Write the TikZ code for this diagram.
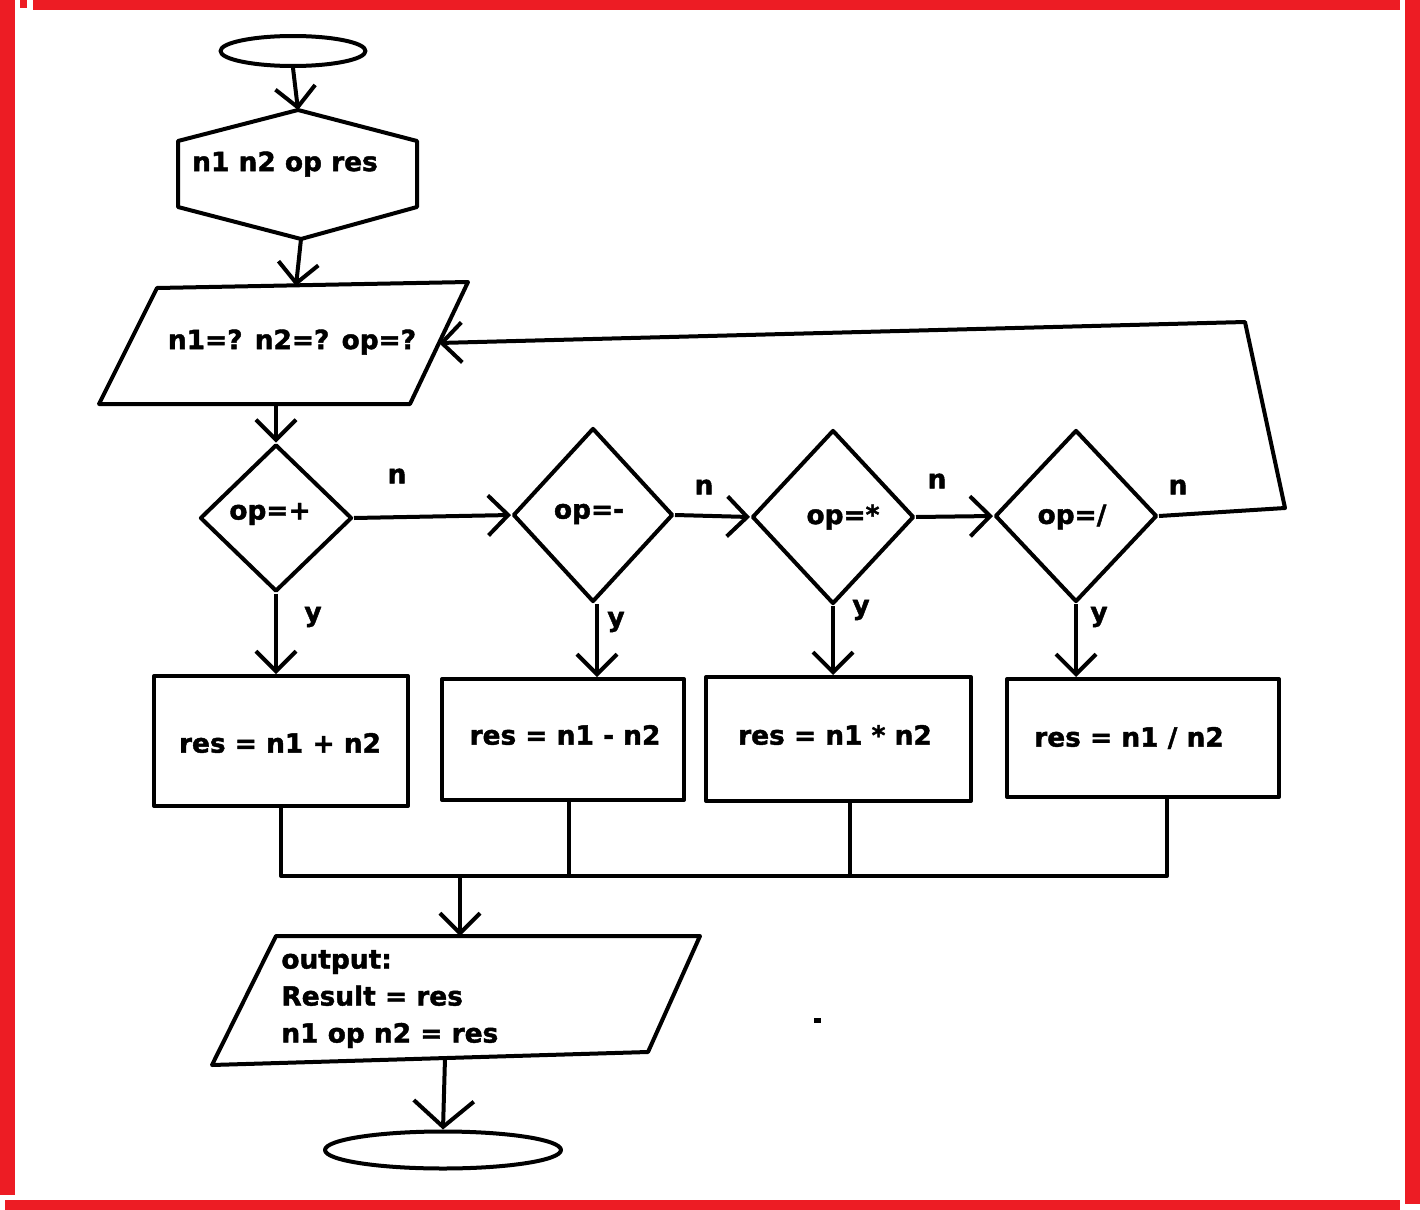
\documentclass[tikz,border=0pt]{standalone}
\usepackage{fontspec}
\setmainfont{DejaVu Sans}[BoldFeatures={FakeBold=1.6}]
\usetikzlibrary{arrows.meta,shapes.geometric}
\definecolor{frame}{RGB}{237,28,36}
\begin{document}
\begin{tikzpicture}[x=0.5pt,y=-0.5pt,
  every node/.style={font=\bfseries\fontsize{13.2pt}{18.5pt}\selectfont, text=black},
  outline/.style={draw=black, line width=2pt, line join=round},
  flow/.style={draw=black, line width=2pt, -{Straight Barb[length=10pt,width=20pt]}},
  bigflow/.style={draw=black, line width=2pt, -{Straight Barb[length=13pt,width=30pt]}},
  wire/.style={draw=black, line width=2pt, line join=round},
  decision/.style={outline, diamond, inner sep=0pt},
  process/.style={outline, rectangle, inner sep=0pt},
  terminal/.style={outline, ellipse, inner sep=0pt},
  tag/.style={inner sep=0pt}]

% page and red frame
\path[use as bounding box, fill=white] (0,0) rectangle (1420,1210);
\fill[frame] (0,0) rectangle (15,1195);
\fill[frame] (20,0) rectangle (27,8);
\fill[frame] (33,0) rectangle (1400,10);
\fill[frame] (1405,0) rectangle (1420,1204);
\fill[frame] (5,1200) rectangle (1400,1210);

% start
\node[terminal, minimum width=72.5pt, minimum height=15pt] (start) at (293,51) {};

% variables (hexagon)
\coordinate (hT) at (298,110);
\coordinate (hUL) at (178,141);
\coordinate (hLL) at (178,207);
\coordinate (hB) at (301,239);
\coordinate (hLR) at (417,207);
\coordinate (hUR) at (417,141);
\draw[outline] (hT) -- (hUL) -- (hLL) -- (hB) -- (hLR) -- (hUR) -- cycle;
\node[tag] (vars) at (285,164) {n1 n2 op res};

% input (parallelogram)
\coordinate (aTL) at (157,288);
\coordinate (aTR) at (468,282);
\coordinate (aBR) at (410,404);
\coordinate (aBL) at (99,404);
\draw[outline] (aTL) -- (aTR) -- (aBR) -- (aBL) -- cycle;
\node[tag] (ask) at (292,342) {n1=? n2=? op=?};
\coordinate (aTop) at (296,286);
\coordinate (aBot) at (276,404);
\coordinate (aRight) at (439,343);

% decisions
\node[decision, minimum width=76pt, minimum height=73.5pt] (d1) at (276,518) {};
\node[decision, minimum width=80pt, minimum height=87pt] (d2) at (593,515) {};
\node[decision, minimum width=81pt, minimum height=87pt] (d3) at (833,517) {};
\node[decision, minimum width=81pt, minimum height=86pt] (d4) at (1076,516) {};
\node[tag] (d1t) at (270,514) {op=+};
\node[tag] (d2t) at (589,514) {op=-};
\node[tag] (d3t) at (843,517) {op=*};
\node[tag] (d4t) at (1072,517) {op=/};

% processes
\node[process, minimum width=127pt, minimum height=65pt] (b1) at (281,741) {};
\node[process, minimum width=121pt, minimum height=60.5pt] (b2) at (563,739.5) {};
\node[process, minimum width=132.5pt, minimum height=62pt] (b3) at (838.5,739) {};
\node[process, minimum width=136pt, minimum height=59pt] (b4) at (1143,738) {};
\node[tag] (b1t) at (280,743) {res = n1 + n2};
\node[tag] (b2t) at (565,735) {res = n1 - n2};
\node[tag] (b3t) at (835,735) {res = n1 * n2};
\node[tag] (b4t) at (1129,738) {res = n1 / n2};

% output (parallelogram)
\coordinate (oTL) at (276,936);
\coordinate (oTR) at (700,936);
\coordinate (oBR) at (648,1052);
\coordinate (oBL) at (212,1065);
\draw[outline] (oTL) -- (oTR) -- (oBR) -- (oBL) -- cycle;
\node[tag, align=left, anchor=west] (show) at (281,999) {output:\\Result = res\\n1 op n2 = res};
\coordinate (oTop) at (460,936);
\coordinate (oBot) at (445,1058);

% end
\node[terminal, minimum width=118pt, minimum height=18.5pt] (stop) at (443,1150) {};

% main flow
\draw[flow] (start.south) -- (hT);
\draw[flow] (hB) -- (aTop);
\draw[flow] (aBot) -- (d1.north);

% "no" branches
\draw[flow] (d1.east) -- (d2.west);
\draw[flow] (d2.east) -- (d3.west);
\draw[flow] (d3.east) -- (d4.west);
\coordinate (loopA) at (1285,508);
\coordinate (loopB) at (1245,322);
\draw[flow, line join=round] (d4.east) -- (loopA) -- (loopB) -- (aRight);

\node[tag] (n1) at (397,476) {n};
\node[tag] (n2) at (704,487) {n};
\node[tag] (n3) at (937,481) {n};
\node[tag] (n4) at (1178,487) {n};

% "yes" branches
\coordinate (y2x) at ([xshift=2pt]d2.south);
\draw[flow] (d1.south) -- (d1.south |- b1.north);
\draw[flow] (y2x) -- (y2x |- b2.north);
\draw[flow] (d3.south) -- (d3.south |- b3.north);
\draw[flow] (d4.south) -- (d4.south |- b4.north);

\node[tag] (y1) at (313,617) {y};
\node[tag] (y2) at (616,622) {y};
\node[tag] (y3) at (861,610) {y};
\node[tag] (y4) at (1099,617) {y};

% merge bus
\coordinate (bus) at (460,876);
\coordinate (b1o) at (b1.south);
\coordinate (b2o) at ([xshift=3pt]b2.south);
\coordinate (b3o) at ([xshift=5.75pt]b3.south);
\coordinate (b4o) at ([xshift=12pt]b4.south);
\draw[wire] (b1o) -- (b1o |- bus) -- (b4o |- bus) -- (b4o);
\draw[wire] (b2o) -- (b2o |- bus);
\draw[wire] (b3o) -- (b3o |- bus);
\draw[flow] (bus) -- (oTop);

% to end
\draw[bigflow] (oBot) -- (stop.north);

% stray ink dot
\fill[black] (814,1018) rectangle (821,1023);
\end{tikzpicture}
\end{document}
